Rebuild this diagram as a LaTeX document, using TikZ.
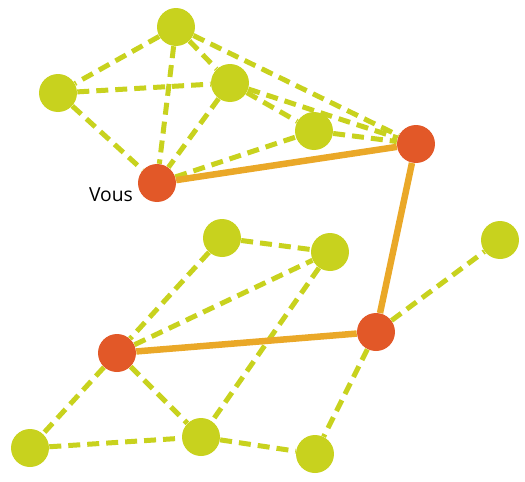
\documentclass[tikz,border=0pt]{standalone}
\usepackage{fontspec}
\setmainfont{Open Sans}
\definecolor{lime}{RGB}{200,210,30}
\definecolor{rouge}{RGB}{226,88,40}
\definecolor{ambre}{RGB}{234,168,40}

\begin{document}
\begin{tikzpicture}[x=0.02cm,y=-0.02cm,
          every node/.style={circle,fill=lime,inner sep=0pt,minimum size=0.76cm},
          moi/.style={fill=rouge},
          lien/.style={lime,line width=0.1cm,dash pattern=on 0.24cm off 0.14cm},
          chemin/.style={ambre,line width=0.13cm}]
        \useasboundingbox (0,0) rectangle (525,481);
        % groupe du haut
        \node (t) at (176,27)  {};
        \node (l) at (58,93)   {};
        \node (m) at (230,83)  {};
        \node (p) at (314,131) {};
        \node[moi] (v) at (157,183) {};
        \node[moi] (r) at (416,144) {};
        % groupe du bas
        \node (b1) at (222,238) {};
        \node (b2) at (330,252) {};
        \node (b3) at (500,240) {};
        \node[moi] (o2) at (376,332) {};
        \node[moi] (o3) at (117,353) {};
        \node (bl) at (30,448)  {};
        \node (bm) at (201,437) {};
        \node (br) at (315,454) {};
        \node[fill=none,rectangle,minimum size=0pt,
          font=\fontsize{11}{13}\selectfont] (vous) at (111,195) {Vous};
        \draw[lien] (t)--(l); \draw[lien] (t)--(m);
        \draw[lien] (t)--(v); \draw[lien] (t)--(r);
        \draw[lien] (l)--(m); \draw[lien] (l)--(v);
        \draw[lien] (m)--(v); \draw[lien] (m)--(r);
        \draw[lien] (m)--(p); \draw[lien] (p)--(r);
        \draw[lien] (v)--(p);
        \draw[lien] (b1)--(o3); \draw[lien] (b1)--(b2);
        \draw[lien] (o3)--(b2); \draw[lien] (b2)--(bm);
        \draw[lien] (o2)--(b3); \draw[lien] (o2)--(br);
        \draw[lien] (o3)--(bl); \draw[lien] (o3)--(bm);
        \draw[lien] (bl)--(bm); \draw[lien] (bm)--(br);
        \draw[chemin] (v)--(r); \draw[chemin] (r)--(o2);
        \draw[chemin] (o2)--(o3);
      \end{tikzpicture}
\end{document}
